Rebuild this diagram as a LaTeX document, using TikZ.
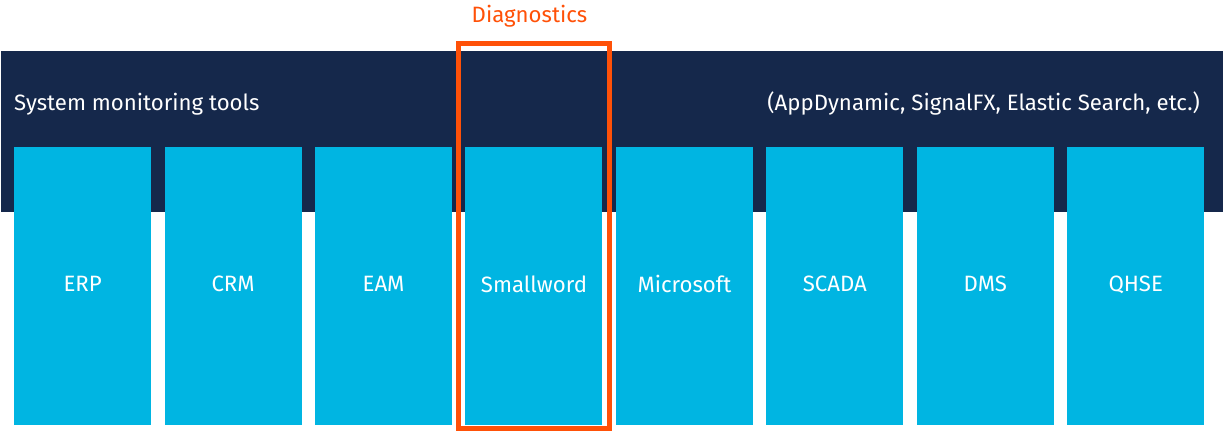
\documentclass[tikz,border=0pt]{standalone}
\usepackage{fontspec}
\setmainfont{Fira Sans}
\definecolor{navy}{HTML}{15284B}
\definecolor{sysblue}{HTML}{00B5E2}
\definecolor{diagorange}{HTML}{FF5108}
\begin{document}
\begin{tikzpicture}[x=1pt,y=-1pt,
  sysbox/.style={fill=sysblue, draw=none, minimum width=137pt, minimum height=278pt, inner sep=0pt, text=white, font=\fontsize{22.2}{26}\selectfont, anchor=north west},
  bandtext/.style={text=white, font=\fontsize{22.2}{26}\selectfont, inner sep=0pt},
]
\useasboundingbox (0,0) rectangle (1223,431);
\fill[white] (0,0) rectangle (1223,431);
\node[fill=navy, minimum width=1222pt, minimum height=161pt, inner sep=0pt, anchor=north west] (band) at (1,51) {};
\node[bandtext, anchor=base west] (systext) at (14,110) {System monitoring tools};
\node[bandtext, anchor=base east] (tooltext) at (1200,110) {(AppDynamic, SignalFX, Elastic Search, etc.)};
\foreach \name/\lab [count=\i from 0] in {erp/ERP, crm/CRM, eam/EAM, small/Smallword, ms/Microsoft, scada/SCADA, dms/DMS, qhse/QHSE}{
  \node[sysbox] (\name) at ({14+\i*150.43},147) {\raisebox{5pt}{\lab}};
}
\draw[diagorange, line width=5pt] (458.5,43.5) rectangle (609,428.5);
\node[text=diagorange, font=\fontsize{22.2}{26}\selectfont, inner sep=0pt, anchor=base] (diag) at (529.5,22.5) {Diagnostics};
\end{tikzpicture}
\end{document}
